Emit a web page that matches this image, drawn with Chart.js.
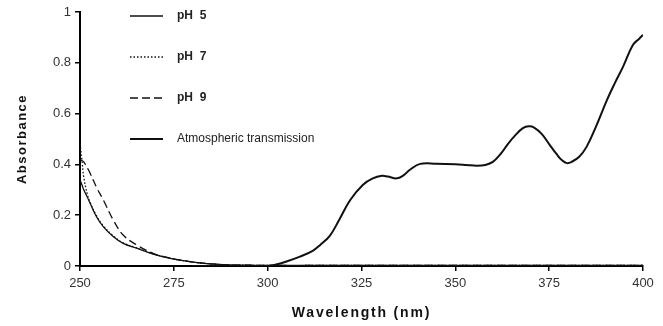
<!DOCTYPE html>
<html>
<head>
<meta charset="utf-8">
<script src="https://cdn.jsdelivr.net/npm/chart.js@4.4.1/dist/chart.umd.min.js"></script>
<style>
  html, body { margin: 0; padding: 0; background: #fff; }
  #wrap { width: 663px; height: 326px; }
</style>
</head>
<body>
<div id="wrap"><canvas id="absChart" width="663" height="326"></canvas></div>
<script>
// wavelengths (nm) and absorbance
const phWavelengths = [250, 250.5, 251, 252, 252.7, 254.4, 256.2, 258.9, 261.5, 265.1, 269.5, 274, 278, 282, 286, 290, 295, 300, 320, 340, 360, 380, 400];
const ph5 = [0.34, 0.32, 0.30, 0.27, 0.247, 0.194, 0.155, 0.115, 0.089, 0.07, 0.047, 0.03, 0.02, 0.012, 0.007, 0.004, 0.003, 0.002, 0.002, 0.002, 0.002, 0.002, 0.002];
const ph7 = [0.48, 0.42, 0.35, 0.28, 0.25, 0.198, 0.158, 0.118, 0.091, 0.071, 0.048, 0.031, 0.02, 0.012, 0.007, 0.004, 0.003, 0.002, 0.002, 0.002, 0.002, 0.002, 0.002];
const ph9 = [0.42, 0.415, 0.41, 0.385, 0.365, 0.31, 0.26, 0.18, 0.122, 0.083, 0.05, 0.031, 0.02, 0.012, 0.007, 0.004, 0.003, 0.002, 0.002, 0.002, 0.002, 0.002, 0.002];

const atmWavelengths = [280, 300, 302, 305, 308.6, 312, 314, 316.6, 319, 322, 325.4, 328, 330.4, 332, 334.4, 336, 338, 340.6, 345, 350, 353, 355.7, 358, 360, 362, 364, 366, 368, 369.6, 371, 373, 375, 377, 378.5, 379.7, 381, 383, 385, 387.5, 390.3, 392.5, 394.7, 397.3, 399, 400];
const atmTransmission = [0, 0, 0.005, 0.018, 0.037, 0.06, 0.083, 0.12, 0.18, 0.26, 0.32, 0.345, 0.355, 0.352, 0.345, 0.355, 0.38, 0.402, 0.403, 0.401, 0.398, 0.395, 0.398, 0.41, 0.44, 0.48, 0.515, 0.543, 0.55, 0.545, 0.52, 0.48, 0.44, 0.415, 0.405, 0.41, 0.43, 0.47, 0.55, 0.65, 0.72, 0.785, 0.87, 0.895, 0.91];

const xTicks = [250, 275, 300, 325, 350, 375, 400];
const yTicks = [0, 0.2, 0.4, 0.6, 0.8, 1];
const seriesLabels = ['pH  5', 'pH  7', 'pH  9', 'Atmospheric transmission'];

function pts(xs, ys) {
  return xs.map((x, i) => ({ x: x, y: ys[i] }));
}

const ink = '#111';

// legend drawn inside the plot area, like the original
const insideLegend = {
  id: 'insideLegend',
  afterDraw(chart) {
    const ctx = chart.ctx;
    const area = chart.chartArea;
    ctx.save();
    chart.data.datasets.forEach((ds, i) => {
      const y = area.top + 4 + i * 41;
      const x0 = area.left + 50;
      ctx.beginPath();
      ctx.strokeStyle = ds.borderColor;
      ctx.lineWidth = ds.borderWidth;
      ctx.setLineDash(ds.borderDash || []);
      ctx.moveTo(x0, y);
      ctx.lineTo(x0 + 33, y);
      ctx.stroke();
      ctx.setLineDash([]);
      ctx.fillStyle = '#222';
      ctx.textBaseline = 'middle';
      ctx.font = (i < 3 ? 'bold ' : '') + '12px "Liberation Sans", Arial, sans-serif';
      ctx.fillText(ds.label, x0 + 47, y);
    });
    ctx.restore();
  }
};

// spaced-out bold axis titles
const axisTitles = {
  id: 'axisTitles',
  afterDraw(chart) {
    const ctx = chart.ctx;
    const area = chart.chartArea;
    ctx.save();
    ctx.fillStyle = '#111';
    ctx.textAlign = 'center';
    ctx.textBaseline = 'middle';
    ctx.font = 'bold 14px "Liberation Sans", Arial, sans-serif';
    ctx.letterSpacing = '1.8px';
    ctx.fillText('Wavelength (nm)', (area.left + area.right) / 2, 313);
    ctx.font = 'bold 13px "Liberation Sans", Arial, sans-serif';
    ctx.letterSpacing = '1.5px';
    ctx.translate(22, (area.top + area.bottom) / 2);
    ctx.rotate(-Math.PI / 2);
    ctx.fillText('Absorbance', 0, 0);
    ctx.restore();
  }
};

const ctx = document.getElementById('absChart').getContext('2d');
new Chart(ctx, {
  type: 'line',
  data: {
    datasets: [
      { label: seriesLabels[0], data: pts(phWavelengths, ph5), borderColor: ink, borderWidth: 1.3, pointRadius: 0, tension: 0.4 },
      { label: seriesLabels[1], data: pts(phWavelengths, ph7), borderColor: ink, borderWidth: 1.3, borderDash: [1.5, 2], pointRadius: 0, tension: 0.4 },
      { label: seriesLabels[2], data: pts(phWavelengths, ph9), borderColor: ink, borderWidth: 1.3, borderDash: [8, 4], pointRadius: 0, tension: 0.4 },
      { label: seriesLabels[3], data: pts(atmWavelengths, atmTransmission), borderColor: ink, borderWidth: 2, pointRadius: 0, tension: 0.4 }
    ]
  },
  options: {
    responsive: false,
    animation: false,
    layout: { padding: { top: 12, right: 20, left: 0, bottom: 0 } },
    plugins: { legend: { display: false }, tooltip: { enabled: false } },
    scales: {
      x: {
        type: 'linear',
        min: 250,
        max: 400,
        afterFit: s => { s.height = 60; },
        afterBuildTicks: s => { s.ticks = xTicks.map(v => ({ value: v })); },
        border: { display: true, color: '#000', width: 2 },
        grid: { drawOnChartArea: false, drawTicks: true, tickLength: 5, color: '#000', lineWidth: 1.5 },
        ticks: { color: '#333', padding: 5, maxRotation: 0, font: { family: '"Liberation Sans", Arial, sans-serif', size: 13 } }
      },
      y: {
        min: 0,
        max: 1,
        afterFit: s => { s.width = 80; },
        afterBuildTicks: s => { s.ticks = yTicks.map(v => ({ value: v })); },
        border: { display: true, color: '#000', width: 2 },
        grid: { drawOnChartArea: false, drawTicks: true, tickLength: 5, color: '#000', lineWidth: 1.5 },
        ticks: { color: '#333', padding: 4, callback: v => String(v), font: { family: '"Liberation Sans", Arial, sans-serif', size: 13 } }
      }
    }
  },
  plugins: [insideLegend, axisTitles]
});
</script>
</body>
</html>
